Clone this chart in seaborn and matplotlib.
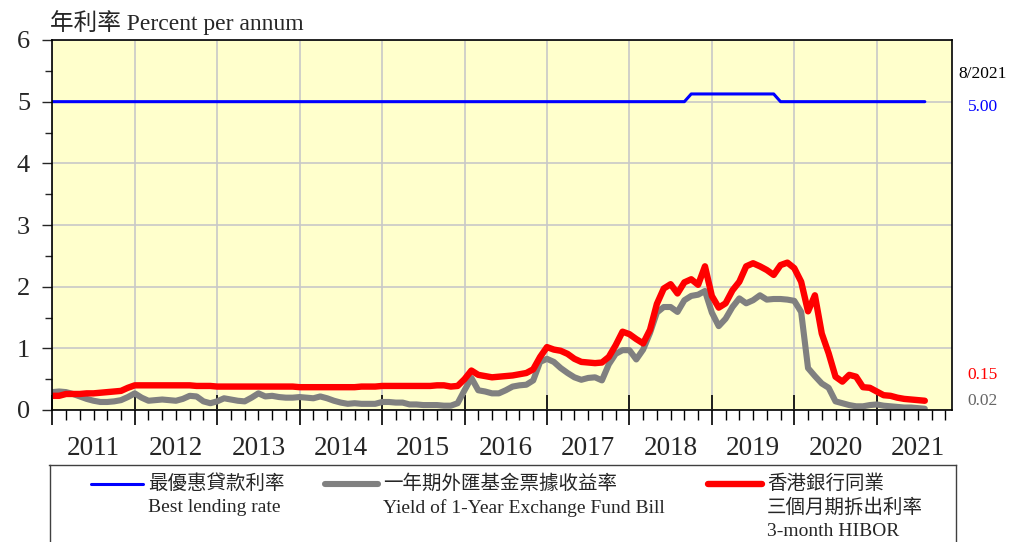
import numpy as np
import pandas as pd
import matplotlib
matplotlib.use('Agg')
import matplotlib.pyplot as plt
from matplotlib.ticker import MultipleLocator, NullFormatter
import seaborn as sns

# Monthly data, Jan 2011 - Aug 2021 (percent per annum)
best_lending = [5.0] * 93 + [5.125] * 13 + [5.0] * 22

efb_1y = [
    0.29, 0.30, 0.29, 0.26, 0.22, 0.18, 0.15, 0.13, 0.13, 0.14, 0.16, 0.21,  # 2011
    0.27, 0.20, 0.15, 0.16, 0.17, 0.16, 0.15, 0.18, 0.23, 0.22, 0.14, 0.11,  # 2012
    0.14, 0.19, 0.17, 0.15, 0.14, 0.20, 0.27, 0.22, 0.23, 0.21, 0.20, 0.20,  # 2013
    0.21, 0.20, 0.19, 0.22, 0.19, 0.15, 0.12, 0.10, 0.11, 0.10, 0.10, 0.10,  # 2014
    0.13, 0.13, 0.12, 0.12, 0.09, 0.09, 0.08, 0.08, 0.08, 0.07, 0.07, 0.11,  # 2015
    0.32, 0.52, 0.32, 0.30, 0.27, 0.27, 0.32, 0.38, 0.40, 0.41, 0.48, 0.78,  # 2016
    0.83, 0.78, 0.68, 0.60, 0.53, 0.49, 0.52, 0.53, 0.48, 0.74, 0.91, 0.97,  # 2017
    0.97, 0.82, 0.98, 1.25, 1.58, 1.67, 1.67, 1.59, 1.78, 1.85, 1.87, 1.93,  # 2018
    1.58, 1.36, 1.48, 1.67, 1.81, 1.73, 1.78, 1.86, 1.79, 1.80, 1.80, 1.79,  # 2019
    1.77, 1.59, 0.68, 0.55, 0.43, 0.36, 0.14, 0.11, 0.08, 0.06, 0.06, 0.08,  # 2020
    0.09, 0.07, 0.06, 0.05, 0.04, 0.04, 0.03, 0.02,                          # 2021
]

hibor_3m = [
    0.23, 0.23, 0.26, 0.26, 0.26, 0.27, 0.27, 0.28, 0.29, 0.30, 0.31, 0.36,  # 2011
    0.40, 0.40, 0.40, 0.40, 0.40, 0.40, 0.40, 0.40, 0.40, 0.39, 0.39, 0.39,  # 2012
    0.38, 0.38, 0.38, 0.38, 0.38, 0.38, 0.38, 0.38, 0.38, 0.38, 0.38, 0.38,  # 2013
    0.37, 0.37, 0.37, 0.37, 0.37, 0.37, 0.37, 0.37, 0.37, 0.38, 0.38, 0.38,  # 2014
    0.39, 0.39, 0.39, 0.39, 0.39, 0.39, 0.39, 0.39, 0.40, 0.40, 0.38, 0.39,  # 2015
    0.50, 0.64, 0.57, 0.55, 0.53, 0.54, 0.55, 0.56, 0.58, 0.60, 0.66, 0.86,  # 2016
    1.02, 0.98, 0.96, 0.91, 0.83, 0.78, 0.77, 0.76, 0.77, 0.86, 1.05, 1.27,  # 2017
    1.23, 1.15, 1.08, 1.30, 1.72, 1.97, 2.04, 1.89, 2.07, 2.12, 2.03, 2.33,  # 2018
    1.85, 1.66, 1.73, 1.94, 2.08, 2.33, 2.38, 2.33, 2.27, 2.19, 2.35, 2.39,  # 2019
    2.30, 2.08, 1.60, 1.86, 1.24, 0.92, 0.54, 0.46, 0.57, 0.54, 0.37, 0.36,  # 2020
    0.30, 0.24, 0.23, 0.20, 0.18, 0.17, 0.16, 0.15,                          # 2021
]

years = list(range(2011, 2022))
last_period = '8/2021'

month_idx = np.arange(len(hibor_3m))
df = pd.DataFrame({'month': month_idx, 'blr': best_lending,
                   'efb': efb_1y, 'hibor': hibor_3m})

W, H = 1009, 542
sns.set_style('ticks')
plt.rcParams['font.family'] = ['Liberation Serif', 'Noto Sans CJK TC', 'DejaVu Sans']

fig = plt.figure(figsize=(W / 100, H / 100), dpi=100)
ax = fig.add_axes([52.3 / W, 1 - 410 / H, 900 / W, 370 / H])
ax.set_facecolor('#FFFFCC')

sns.lineplot(data=df, x='month', y='blr', color='#0000FF', linewidth=2.2, ax=ax)
sns.lineplot(data=df, x='month', y='efb', color='#808080', linewidth=4.4, ax=ax)
sns.lineplot(data=df, x='month', y='hibor', color='#FF0000', linewidth=4.6, ax=ax)

ax.set_xlim(0, 131)
ax.set_ylim(0, 6)
ax.set_xlabel('')
ax.set_ylabel('')

ax.xaxis.set_major_locator(MultipleLocator(12))
ax.xaxis.set_minor_locator(MultipleLocator(2))
ax.xaxis.set_major_formatter(NullFormatter())
ax.tick_params(axis='x', which='major', direction='inout', length=22, width=1.2, color='black')
ax.tick_params(axis='x', which='minor', direction='out', length=7, width=1, color='black')

ax.yaxis.set_major_locator(MultipleLocator(1))
ax.yaxis.set_minor_locator(MultipleLocator(0.5))
ax.tick_params(axis='y', which='major', direction='out', length=7, width=1,
               labelsize=19, pad=9)
ax.tick_params(axis='y', which='minor', direction='out', length=5, width=1)

ax.grid(True, which='major', color='#C8C8C8', linewidth=1.2)
ax.set_axisbelow(True)
for s in ax.spines.values():
    s.set_visible(True)
    s.set_color('black')
    s.set_linewidth(1.2)

# year labels centred within each year
secax = ax.secondary_xaxis('bottom')
secax.set_xticks([(y - years[0]) * 12 + 6 for y in years], [str(y) for y in years])
secax.tick_params(length=0, labelsize=19.5, pad=19)
secax.spines['bottom'].set_visible(False)

# title
fig.text(50 / W, 1 - 23 / H, '年利率 Percent per annum', fontsize=17, va='center', ha='left')

# latest values on the right
tr = ax.get_yaxis_transform()
xr = (983 - 52.3) / 900
ax.text(xr, 5.45, last_period, transform=tr, ha='center', va='center', fontsize=12.5, color='black')
ax.text(xr, 4.92, f'{best_lending[-1]:.2f}', transform=tr, ha='center', va='center', fontsize=12.5, color='#0000FF')
ax.text(xr, 0.56, f'{hibor_3m[-1]:.2f}', transform=tr, ha='center', va='center', fontsize=12.5, color='#FF0000')
ax.text(xr, 0.15, f'{efb_1y[-1]:.2f}', transform=tr, ha='center', va='center', fontsize=12.5, color='#666666')

# legend box
lax = fig.add_axes([49.5 / W, -5 / H, 906.5 / W, 82 / H])
lax.set_xlim(49.5, 956)
lax.set_ylim(547, 465)
lax.set_xticks([])
lax.set_yticks([])
for s in lax.spines.values():
    s.set_color('#404040')
    s.set_linewidth(1)

entries = [
    ('#0000FF', 2.2, 91, 143, ['最優惠貸款利率', 'Best lending rate']),
    ('#808080', 4.4, 325, 378, ['一年期外匯基金票據收益率', 'Yield of 1-Year Exchange Fund Bill']),
    ('#FF0000', 4.6, 708, 762, ['香港銀行同業', '三個月期拆出利率', '3-month HIBOR']),
]
for color, lw, x0, x1, lines in entries:
    lax.plot([x0, x1], [484, 484], color=color, linewidth=lw, solid_capstyle='round')
    for i, txt in enumerate(lines):
        lax.text(x1 + 5, 484 + 24 * i, txt, fontsize=14, va='center', ha='left')

fig.savefig('out.png', dpi=100)
